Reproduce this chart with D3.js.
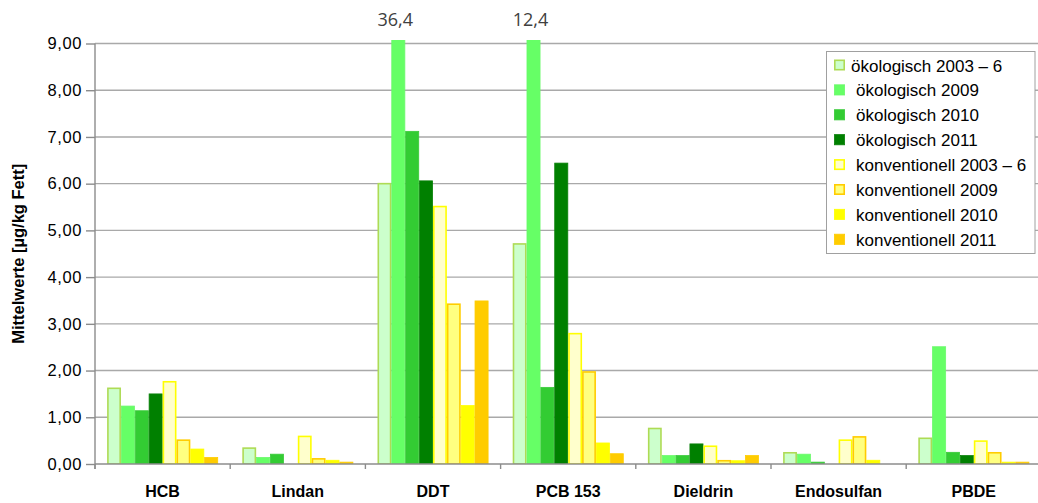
<!DOCTYPE html>
<html>
<head>
<meta charset="utf-8">
<script src="https://cdn.jsdelivr.net/npm/d3@7"></script>
<style>
  html, body { margin: 0; padding: 0; background: #fff; }
  svg { display: block; }
</style>
</head>
<body>
<svg id="chart" width="1038" height="503"></svg>
<script>
// Substances on the x axis
const categories = ["HCB", "Lindan", "DDT", "PCB 153", "Dieldrin", "Endosulfan", "PBDE"];

// Series names (legend order = bar order within each group)
const seriesNames = [
  "ökologisch 2003 – 6", "ökologisch 2009", "ökologisch 2010", "ökologisch 2011",
  "konventionell 2003 – 6", "konventionell 2009", "konventionell 2010", "konventionell 2011"
];

// Mean values in µg/kg fat, one array per series, in category order (null = no value)
const oeko2003_6 = [1.62, 0.34, 6.00, 4.71, 0.76, 0.24, 0.55];
const oeko2009   = [1.24, 0.14, 36.4, 12.4, 0.18, 0.21, 2.51];
const oeko2010   = [1.14, 0.21, 7.12, 1.64, 0.18, 0.04, 0.25];
const oeko2011   = [1.50, null, 6.06, 6.44, 0.43, null, 0.18];
const konv2003_6 = [1.76, 0.59, 5.51, 2.79, 0.38, 0.51, 0.49];
const konv2009   = [0.51, 0.11, 3.42, 1.97, 0.07, 0.58, 0.24];
const konv2010   = [0.32, 0.08, 1.25, 0.45, 0.07, 0.08, 0.04];
const konv2011   = [0.14, 0.04, 3.49, 0.22, 0.18, null, 0.04];

const seriesValues = [oeko2003_6, oeko2009, oeko2010, oeko2011, konv2003_6, konv2009, konv2010, konv2011];

// Y axis ticks
const yTicks = [0, 1, 2, 3, 4, 5, 6, 7, 8, 9];

// Bar styles per series
const fills   = ["#CCFFCC", "#66FF66", "#33CC33", "#008000", "#FFFFCC", "#FFFF80", "#FFFF00", "#FFCC00"];
const strokes = ["#AEDB55", "#6CF86C", "#3ACA3A", "#0B810B", "#FFFF00", "#FFCC00", "#FFFF00", "#FFCC00"];
const strokeW = [1.6, 0.8, 0.8, 0.8, 1.6, 1.6, 0.8, 0.8];

const svg = d3.select("#chart");
const plot = { left: 95, right: 1041.4, top: 43.5, bottom: 464 };

const x = d3.scaleBand()
  .domain(categories)
  .range([plot.left, plot.right])
  .paddingInner(0.179)
  .paddingOuter(0.0895);

const xs = d3.scaleBand()
  .domain(d3.range(seriesNames.length))
  .range([0, x.bandwidth()]);

const y = d3.scaleLinear().domain([0, 9]).range([plot.bottom, plot.top]);

const fmt = v => d3.format(".2f")(v).replace(".", ",");
const fmt1 = v => d3.format(".1f")(v).replace(".", ",");

// Horizontal gridlines
svg.append("g")
  .selectAll("line")
  .data(yTicks.filter(t => t > 0))
  .join("line")
  .attr("x1", plot.left).attr("x2", plot.right)
  .attr("y1", d => y(d)).attr("y2", d => y(d))
  .attr("stroke", "#A9A9A9").attr("stroke-width", 1.4);

// Clip the bars slightly above the top of the scale
svg.append("defs").append("clipPath").attr("id", "plotClip")
  .append("rect")
  .attr("x", plot.left).attr("y", plot.top - 3.5)
  .attr("width", plot.right - plot.left).attr("height", plot.bottom - plot.top + 3.5);

const barData = [];
seriesValues.forEach((vals, si) => {
  vals.forEach((v, ci) => {
    if (v != null) barData.push({ si, cat: categories[ci], v });
  });
});

svg.append("g").attr("clip-path", "url(#plotClip)")
  .selectAll("rect")
  .data(barData)
  .join("rect")
  .attr("x", d => x(d.cat) + xs(d.si) + strokeW[d.si] / 2)
  .attr("width", d => xs.bandwidth() - strokeW[d.si])
  .attr("y", d => y(d.v))
  .attr("height", d => y(0) - y(d.v))
  .attr("fill", d => fills[d.si])
  .attr("stroke", d => strokes[d.si])
  .attr("stroke-width", d => strokeW[d.si]);

// Values above the scale are written above the cut-off bars
svg.append("g")
  .selectAll("text")
  .data(barData.filter(d => d.v > 9))
  .join("text")
  .attr("x", d => x(d.cat) + xs(d.si) + xs.bandwidth() / 2 - 3)
  .attr("y", 26)
  .attr("text-anchor", "middle")
  .attr("font-family", "'Open Sans', sans-serif")
  .attr("font-size", 18)
  .attr("fill", "#404040")
  .text(d => fmt1(d.v));

// Y axis
const yAxis = svg.append("g")
  .attr("transform", `translate(${plot.left},0)`)
  .call(d3.axisLeft(y).tickValues(yTicks).tickFormat(fmt).tickSize(9).tickPadding(4));
yAxis.select(".domain").attr("stroke", "#8C8C8C").attr("stroke-width", 1.4)
  .attr("d", `M-0,${plot.top}V${plot.bottom + 5}`);
yAxis.selectAll(".tick line").attr("stroke", "#8C8C8C").attr("stroke-width", 1.4);
yAxis.selectAll(".tick text")
  .attr("font-family", "'Liberation Sans', Arial, sans-serif")
  .attr("font-size", 16.5)
  .attr("letter-spacing", 0.6)
  .attr("fill", "#000");

// X axis: baseline with tick marks at category boundaries
const xg = svg.append("g");
xg.append("line")
  .attr("x1", plot.left).attr("x2", plot.right)
  .attr("y1", plot.bottom).attr("y2", plot.bottom)
  .attr("stroke", "#8C8C8C").attr("stroke-width", 1.4);
const boundaries = categories.map(c => x(c) - x.step() * x.paddingOuter()).concat([plot.right]);
xg.selectAll("line.b")
  .data(boundaries)
  .join("line").attr("class", "b")
  .attr("x1", d => d).attr("x2", d => d)
  .attr("y1", plot.bottom).attr("y2", plot.bottom + 5)
  .attr("stroke", "#8C8C8C").attr("stroke-width", 1.4);
xg.selectAll("text")
  .data(categories)
  .join("text")
  .attr("x", d => x(d) + x.bandwidth() / 2)
  .attr("y", 497)
  .attr("text-anchor", "middle")
  .attr("font-family", "'Liberation Sans', Arial, sans-serif")
  .attr("font-weight", "bold")
  .attr("font-size", 16)
  .text(d => d);

// Y axis title
svg.append("text")
  .attr("transform", `translate(24,${(plot.top + plot.bottom) / 2}) rotate(-90)`)
  .attr("text-anchor", "middle")
  .attr("font-family", "'Liberation Sans', Arial, sans-serif")
  .attr("font-weight", "bold")
  .attr("font-size", 16.5)
  .text("Mittelwerte [µg/kg Fett]");

// Legend
const lg = svg.append("g");
lg.append("rect")
  .attr("x", 826.5).attr("y", 51.5).attr("width", 208.5).attr("height", 202)
  .attr("fill", "#fff").attr("stroke", "#A0A0A0").attr("stroke-width", 1);
const rowY = i => 65 + i * 24.9;
lg.selectAll("rect.sw")
  .data(seriesNames)
  .join("rect").attr("class", "sw")
  .attr("x", (d, i) => 834 + strokeW[i] / 2)
  .attr("y", (d, i) => rowY(i) - 5.5 + strokeW[i] / 2)
  .attr("width", (d, i) => 11 - strokeW[i])
  .attr("height", (d, i) => 11 - strokeW[i])
  .attr("fill", (d, i) => fills[i])
  .attr("stroke", (d, i) => strokes[i])
  .attr("stroke-width", (d, i) => strokeW[i]);
lg.selectAll("text")
  .data(seriesNames)
  .join("text")
  .attr("x", (d, i) => i === 0 ? 851 : 856)
  .attr("y", (d, i) => rowY(i) + 6.5)
  .attr("font-family", "'Liberation Sans', Arial, sans-serif")
  .attr("font-size", 17)
  .text(d => d);
</script>
</body>
</html>
